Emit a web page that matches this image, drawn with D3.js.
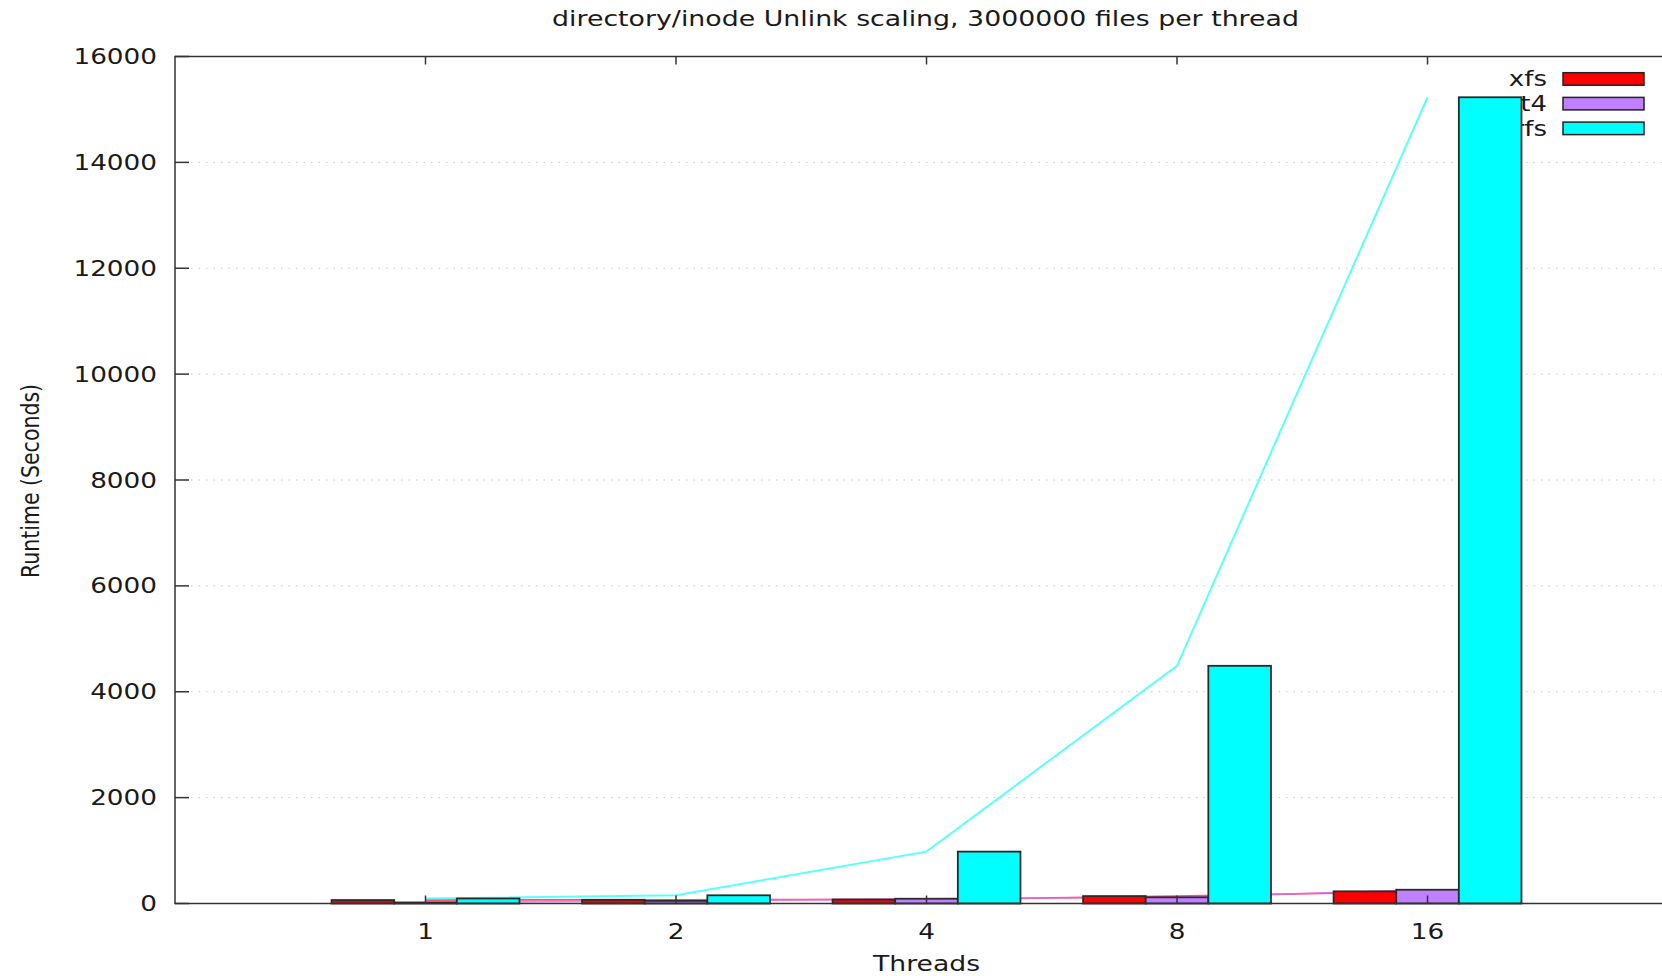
<!DOCTYPE html>
<html>
<head>
<meta charset="utf-8">
<script src="https://cdn.jsdelivr.net/npm/d3@7"></script>
<style>
    body { margin: 0; background: #fff; }
    text { font-family: "DejaVu Sans", sans-serif; fill: #1a1a1a; }
</style>
</head>
<body>
<div id="chart"></div>
<script>
    const threads = ["1", "2", "4", "8", "16"];
    const seriesNames = ["xfs", "ext4", "btrfs"];
    const xfsValues = [65, 70, 75, 140, 230];
    const ext4Values = [20, 50, 90, 117, 260];
    const btrfsValues = [95, 155, 980, 4490, 15230];
    const yTicks = [0, 2000, 4000, 6000, 8000, 10000, 12000, 14000, 16000];

    const colors = ["#ff0000", "#c080ff", "#00ffff"];
    const lineColors = ["#ff2040", "#d070ff", "#30ffff"];

    const width = 1662, height = 976;
    const margin = { top: 56.5, right: 0, bottom: 72.5, left: 175 };
    const sx = 1.24; // text in the picture is stretched sideways

    const series = seriesNames.map((name, i) => ({
        name: name,
        values: [xfsValues, ext4Values, btrfsValues][i],
        color: colors[i],
        lineColor: lineColors[i]
    }));

    const svg = d3.select("#chart")
        .append("svg")
        .attr("width", width)
        .attr("height", height);

    const x = d3.scaleLinear()
        .domain([0, 5.936])
        .range([margin.left, width - margin.right]);

    const y = d3.scaleLinear()
        .domain([0, 16000])
        .range([height - margin.bottom, margin.top]);

    const barW = x(0.25) - x(0);

    function label(parent, px, py, str, anchor, size) {
        return parent.append("text")
            .attr("transform", `translate(${px},${py}) scale(${sx},1)`)
            .attr("text-anchor", anchor)
            .style("font-size", size + "px")
            .text(str);
    }

    // grid
    svg.append("g")
        .selectAll("line")
        .data(yTicks.slice(1, -1))
        .enter()
        .append("line")
        .attr("x1", margin.left + 16)
        .attr("x2", width)
        .attr("y1", d => y(d))
        .attr("y2", d => y(d))
        .attr("stroke", "#c4c4c4")
        .attr("stroke-width", 1)
        .attr("stroke-dasharray", "1.5,6");

    // legend (bars are drawn over it)
    const legend = svg.append("g");
    series.forEach((s, i) => {
        const top = 72.7 + i * 24.7;
        legend.append("rect")
            .attr("x", 1563)
            .attr("y", top)
            .attr("width", 81)
            .attr("height", 12.5)
            .attr("fill", s.color)
            .attr("stroke", "#222")
            .attr("stroke-width", 1.5);
        label(legend, 1547, top + 13.5, s.name, "end", 21);
    });

    // lines through the group centres
    const line = d3.line()
        .x((d, i) => x(i + 1))
        .y(d => y(d));

    series.forEach(s => {
        svg.append("path")
            .datum(s.values)
            .attr("d", line)
            .attr("fill", "none")
            .attr("stroke", s.lineColor)
            .attr("stroke-width", s.name === "btrfs" ? 2 : 1.7)
            .attr("stroke-opacity", s.name === "btrfs" ? 0.8 : 0.8);
    });

    // bars
    series.forEach((s, k) => {
        svg.append("g")
            .selectAll("rect")
            .data(s.values)
            .enter()
            .append("rect")
            .attr("x", (d, i) => x(i + 1 + (k - 1) * 0.25 - 0.125))
            .attr("y", d => y(d))
            .attr("width", barW)
            .attr("height", d => y(0) - y(d))
            .attr("fill", s.color)
            .attr("stroke", "#2a2a2a")
            .attr("stroke-width", 1.8);
    });

    // border
    svg.append("path")
        .attr("d", `M${width},${y(16000)}H${x(0)}V${y(0)}H${width}`)
        .attr("fill", "none")
        .attr("stroke", "#333")
        .attr("stroke-width", 1.5);

    // y ticks + labels
    const yAxis = svg.append("g");
    yTicks.forEach(t => {
        yAxis.append("line")
            .attr("x1", x(0)).attr("x2", x(0) + 14)
            .attr("y1", y(t)).attr("y2", y(t))
            .attr("stroke", "#333").attr("stroke-width", 1.5);
        label(yAxis, 157, y(t) + 7.6, t, "end", 21.2);
    });

    // x ticks + labels
    const xAxis = svg.append("g");
    threads.forEach((t, i) => {
        const px = x(i + 1);
        xAxis.append("line")
            .attr("x1", px).attr("x2", px)
            .attr("y1", y(0)).attr("y2", y(0) - 8)
            .attr("stroke", "#333").attr("stroke-width", 1.5);
        xAxis.append("line")
            .attr("x1", px).attr("x2", px)
            .attr("y1", y(16000)).attr("y2", y(16000) + 8)
            .attr("stroke", "#333").attr("stroke-width", 1.5);
        label(xAxis, px, 938.5, t, "middle", 21.2);
    });

    // titles
    label(svg, 925.5, 26, "directory/inode Unlink scaling, 3000000 files per thread", "middle", 21.6);
    label(svg, 926.5, 970.5, "Threads", "middle", 21.5);

    svg.append("text")
        .attr("transform", `translate(39,481) scale(${sx},1) rotate(-90)`)
        .attr("text-anchor", "middle")
        .style("font-size", "20.5px")
        .text("Runtime (Seconds)");
</script>
</body>
</html>
